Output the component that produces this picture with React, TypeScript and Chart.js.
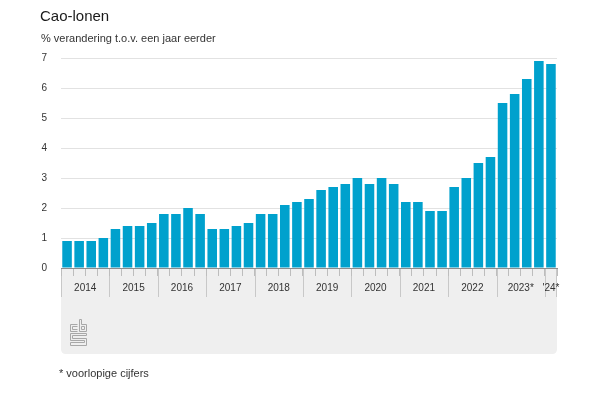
import React, { useEffect, useRef } from "react";
import { Chart, registerables } from "chart.js";

Chart.register(...registerables);

const quarters: string[] = [
  "2014 K1", "2014 K2", "2014 K3", "2014 K4",
  "2015 K1", "2015 K2", "2015 K3", "2015 K4",
  "2016 K1", "2016 K2", "2016 K3", "2016 K4",
  "2017 K1", "2017 K2", "2017 K3", "2017 K4",
  "2018 K1", "2018 K2", "2018 K3", "2018 K4",
  "2019 K1", "2019 K2", "2019 K3", "2019 K4",
  "2020 K1", "2020 K2", "2020 K3", "2020 K4",
  "2021 K1", "2021 K2", "2021 K3", "2021 K4",
  "2022 K1", "2022 K2", "2022 K3", "2022 K4",
  "2023 K1*", "2023 K2*", "2023 K3*", "2023 K4*",
  "2024 K1*",
];

const caoLonen: number[] = [
  0.9, 0.9, 0.9, 1.0,
  1.3, 1.4, 1.4, 1.5,
  1.8, 1.8, 2.0, 1.8,
  1.3, 1.3, 1.4, 1.5,
  1.8, 1.8, 2.1, 2.2,
  2.3, 2.6, 2.7, 2.8,
  3.0, 2.8, 3.0, 2.8,
  2.2, 2.2, 1.9, 1.9,
  2.7, 3.0, 3.5, 3.7,
  5.5, 5.8, 6.3, 6.9,
  6.8,
];

const yearLabels: string[] = [
  "2014", "2015", "2016", "2017", "2018", "2019", "2020", "2021", "2022", "2023*", "'24*",
];
// number of quarters shown for each year label
const yearQuarterCounts: number[] = [4, 4, 4, 4, 4, 4, 4, 4, 4, 4, 1];

const yTicks: number[] = [0, 1, 2, 3, 4, 5, 6, 7];

const FONT = "'Liberation Sans', Arial, Helvetica, sans-serif";

// year centres and boundaries in quarter-index units
const yearCenters: number[] = [];
const yearBounds: number[] = [-0.5];
{
  let start = 0;
  for (const n of yearQuarterCounts) {
    yearCenters.push(start + (n - 1) / 2);
    start += n;
    yearBounds.push(start - 0.5);
  }
}

const bandPlugin = {
  id: "cbsBand",
  beforeDraw(chart: any) {
    const { ctx, chartArea } = chart;
    const xs = chart.scales.xYear;
    const left = chartArea.left;
    const right = chartArea.right;
    const top = chartArea.bottom;
    const bottom = 354;
    const r = 5;
    ctx.save();
    ctx.fillStyle = "#efefef";
    ctx.beginPath();
    ctx.moveTo(left, top);
    ctx.lineTo(right, top);
    ctx.lineTo(right, bottom - r);
    ctx.quadraticCurveTo(right, bottom, right - r, bottom);
    ctx.lineTo(left + r, bottom);
    ctx.quadraticCurveTo(left, bottom, left, bottom - r);
    ctx.closePath();
    ctx.fill();

    // year separators
    ctx.strokeStyle = "#c8c8c8";
    ctx.lineWidth = 1;
    for (const b of yearBounds) {
      let px = Math.round(xs.getPixelForValue(b)) + 0.5;
      if (px > right) px = right - 0.5;
      ctx.beginPath();
      ctx.moveTo(px, top);
      ctx.lineTo(px, top + 29);
      ctx.stroke();
    }

    // cbs logo
    ctx.strokeStyle = "#a8a8a8";
    ctx.lineWidth = 1;
    const ox = 70.5;
    const oy = 319.5;
    const path = (pts: number[][]) => {
      ctx.beginPath();
      pts.forEach(([x, y], i) => (i === 0 ? ctx.moveTo(ox + x, oy + y) : ctx.lineTo(ox + x, oy + y)));
      ctx.stroke();
    };
    // c
    path([[7, 5], [0, 5], [0, 12], [7, 12]]);
    path([[7, 7], [2, 7], [2, 10], [7, 10]]);
    // b
    path([[9, 0], [9, 12], [16, 12], [16, 5], [11, 5], [11, 0], [9, 0]]);
    path([[11, 7], [14, 7], [14, 10], [11, 10], [11, 7]]);
    // s
    path([[16, 14], [0, 14], [0, 21], [14, 21], [14, 23], [0, 23], [0, 26], [16, 26], [16, 19], [2, 19], [2, 16], [16, 16], [16, 14]]);
    ctx.restore();
  },
};

export default function App() {
  const canvasRef = useRef<HTMLCanvasElement | null>(null);

  useEffect(() => {
    if (!canvasRef.current) return;
    const chart = new Chart(canvasRef.current, {
      type: "bar",
      data: {
        labels: quarters,
        datasets: [
          {
            label: "Cao-lonen",
            data: caoLonen,
            backgroundColor: "#00a1cd",
            barPercentage: 0.79,
            categoryPercentage: 1.0,
            xAxisID: "x",
            yAxisID: "y",
          },
        ],
      },
      options: {
        responsive: false,
        animation: false,
        devicePixelRatio: 1,
        layout: { padding: { top: 58, left: 0, right: 43, bottom: 0 } },
        plugins: {
          legend: { display: false },
          tooltip: { enabled: false },
          title: { display: false },
        },
        scales: {
          x: {
            type: "category",
            position: "bottom",
            weight: 0,
            offset: true,
            ticks: { display: false },
            grid: {
              display: true,
              offset: true,
              drawOnChartArea: false,
              drawTicks: true,
              tickLength: 8,
              color: "#bdbdbd",
            },
            border: { display: true, color: "#8c8c8c", width: 1 },
            afterFit: (s: any) => {
              s.height = 8;
            },
          },
          xYear: {
            type: "linear",
            position: "bottom",
            weight: 1,
            offset: false,
            bounds: "data",
            min: -0.5,
            max: quarters.length - 0.5,
            afterBuildTicks: (s: any) => {
              s.ticks = yearCenters.map((v) => ({ value: v }));
            },
            ticks: {
              autoSkip: false,
              maxRotation: 0,
              padding: 6,
              color: "#333333",
              font: { family: FONT, size: 10 },
              callback: (_v: any, i: number) => yearLabels[i],
            },
            grid: { display: false, drawTicks: false, offset: false },
            border: { display: false },
            afterFit: (s: any) => {
              s.height = 124;
            },
          },
          y: {
            min: 0,
            max: 7,
            afterBuildTicks: (s: any) => {
              s.ticks = yTicks.map((v) => ({ value: v }));
            },
            ticks: {
              padding: 14,
              color: "#333333",
              font: { family: FONT, size: 10 },
            },
            grid: { color: "#e2e2e2", drawTicks: false, lineWidth: 1 },
            border: { display: false },
            afterFit: (s: any) => {
              s.width = 61;
            },
          },
        },
      },
      plugins: [bandPlugin],
    });
    return () => chart.destroy();
  }, []);

  const textBase: React.CSSProperties = {
    position: "absolute",
    margin: 0,
    fontFamily: FONT,
    color: "#222222",
    whiteSpace: "nowrap",
  };

  return (
    <div style={{ position: "absolute", left: 0, top: 0, width: 600, height: 400, background: "#ffffff", overflow: "hidden" }}>
      <canvas ref={canvasRef} width={600} height={400} style={{ position: "absolute", left: 0, top: 0, width: 600, height: 400 }} />
      <div style={{ ...textBase, left: 40, top: 8, fontSize: 15, lineHeight: "15px", color: "#1a1a1a" }}>Cao-lonen</div>
      <div style={{ ...textBase, left: 41, top: 33, fontSize: 11, lineHeight: "11px", color: "#333333" }}>
        % verandering t.o.v. een jaar eerder
      </div>
      <div style={{ ...textBase, left: 59, top: 368, fontSize: 11, lineHeight: "11px", color: "#333333" }}>
        * voorlopige cijfers
      </div>
    </div>
  );
}
